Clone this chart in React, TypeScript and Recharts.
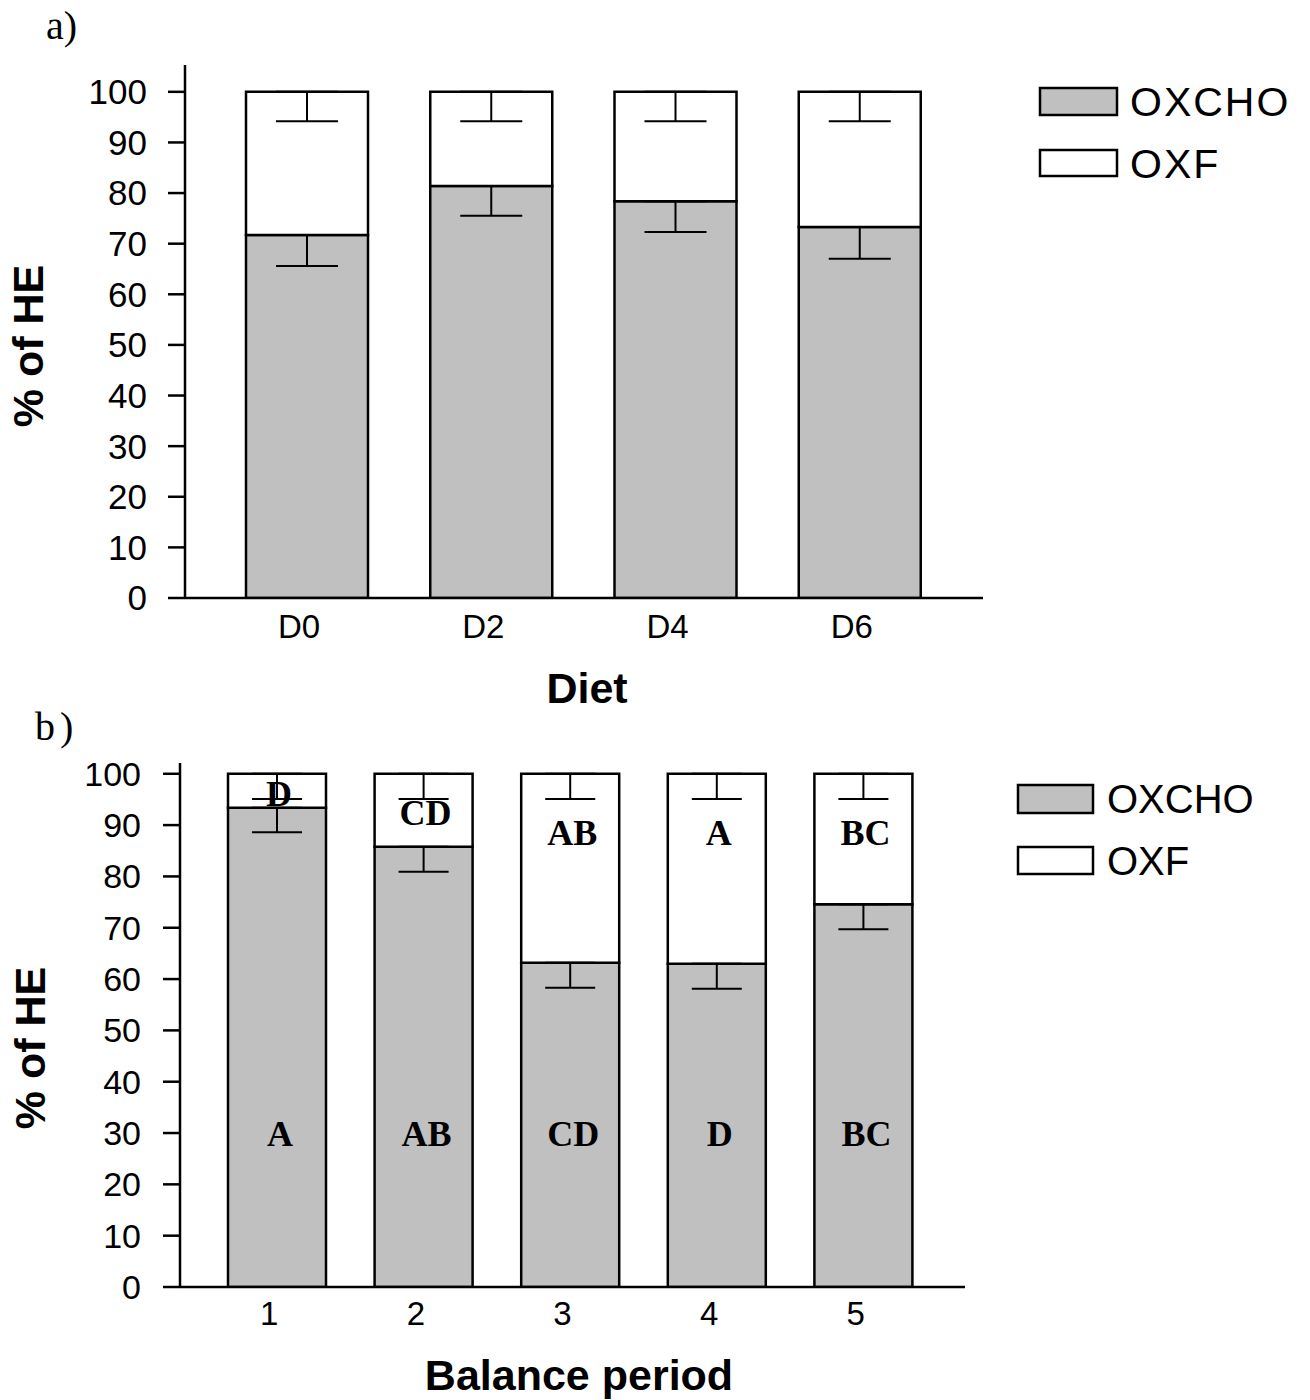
import React from 'react';
import { BarChart, Bar, XAxis, YAxis, ErrorBar, Legend, LabelList, Label } from 'recharts';

const SANS = '"Liberation Sans", Arial, sans-serif';
const SERIF = '"Liberation Serif", "Times New Roman", serif';

// ---- Panel a) Diet ----
const dietCategories = ['D0', 'D2', 'D4', 'D6'];
const dietOxcho = [71.7, 81.4, 78.4, 73.3];
const dietOxf = [28.3, 18.6, 21.6, 26.7];
const dietOxchoErr = [6.1, 5.9, 6.1, 6.3];
const dietOxfErr = [5.8, 5.8, 5.8, 5.8];

// ---- Panel b) Balance period ----
const periodCategories = ['1', '2', '3', '4', '5'];
const periodOxcho = [93.4, 85.8, 63.2, 63.0, 74.6];
const periodOxf = [6.6, 14.2, 36.8, 37.0, 25.4];
const periodOxchoErr = [4.8, 4.9, 4.9, 4.9, 4.9];
const periodOxfErr = [4.9, 4.9, 4.9, 4.9, 4.9];
const periodOxchoLetters = ['A', 'AB', 'CD', 'D', 'BC'];
const periodOxfLetters = ['D', 'CD', 'AB', 'A', 'BC'];

const yTicks = [0, 10, 20, 30, 40, 50, 60, 70, 80, 90, 100];

const dietRows = dietCategories.map((name, i) => ({
  name,
  oxcho: dietOxcho[i],
  oxf: dietOxf[i],
  oxchoErr: [dietOxchoErr[i], 0],
  oxfErr: [dietOxfErr[i], 0],
}));

const periodRows = periodCategories.map((name, i) => ({
  name,
  oxcho: periodOxcho[i],
  oxf: periodOxf[i],
  oxchoErr: [periodOxchoErr[i], 0],
  oxfErr: [periodOxfErr[i], 0],
  oxchoLetter: periodOxchoLetters[i],
  oxfLetter: periodOxfLetters[i],
}));

const GREY = '#c0c0c0';

const XTick = (props: any) => {
  const { x, y, payload, fontSize } = props;
  return (
    <text x={x - 8} y={y} dy="0.71em" textAnchor="middle" fill="#000" fontSize={fontSize} fontFamily={SANS}>
      {payload.value}
    </text>
  );
};

const LegendBox = (props: any) => {
  const { boxX, rows, boxW, textX, fontSize, spacing } = props;
  return (
    <svg width={300} height={140} style={{ overflow: 'visible' }}>
      {rows.map((r: any, i: number) => (
        <g key={i}>
          <rect x={boxX} y={r.y} width={boxW} height={r.h} fill={r.fill} stroke="#000" strokeWidth={2.5} />
          <text
            x={textX}
            y={r.y + r.h / 2 + fontSize * 0.358}
            fontSize={fontSize}
            fontFamily={SANS}
            fill="#000"
            letterSpacing={spacing}
          >
            {r.label}
          </text>
        </g>
      ))}
    </svg>
  );
};

const OxchoLetter = (props: any) => {
  const { x, y, width, height, value } = props;
  const bottom = y + height;
  const cy = bottom - 153;
  return (
    <text x={x + width / 2 + 3} y={cy + 12} textAnchor="middle" fontSize={36} fontWeight="bold" fontFamily={SERIF} fill="#000">
      {value}
    </text>
  );
};

const OxfLetter = (props: any) => {
  const { x, y, width, height, value } = props;
  const cy = Math.min(y + 59, y + height / 2 + 3);
  return (
    <text x={x + width / 2 + 2} y={cy + 12} textAnchor="middle" fontSize={36} fontWeight="bold" fontFamily={SERIF} fill="#000">
      {value}
    </text>
  );
};

const axisStyle = { stroke: '#000', strokeWidth: 2.5 };

export default function App() {
  return (
    <div style={{ position: 'absolute', left: 0, top: 0, width: 1310, height: 1400, background: '#fff' }}>
      {/* Panel a */}
      <div style={{ position: 'absolute', left: 0, top: 0 }}>
        <BarChart
          width={1310}
          height={720}
          data={dietRows}
          margin={{ top: 65, right: 327, bottom: 62, left: 0 }}
          barSize={122}
        >
          <XAxis
            dataKey="name"
            height={60}
            tickLine={false}
            tickSize={0}
            tickMargin={17}
            padding={{ left: 30, right: 31 }}
            axisLine={axisStyle}
            tick={<XTick fontSize={33} />}
            interval={0}
          >
            <Label
              content={() => (
                <text x={587} y={703} textAnchor="middle" fontSize={43} fontWeight="bold" fontFamily={SANS} fill="#000">
                  Diet
                </text>
              )}
            />
          </XAxis>
          <YAxis
            type="number"
            domain={[0, 105.3]}
            ticks={yTicks}
            interval={0}
            allowDataOverflow
            width={185}
            tickSize={17}
            tickMargin={21}
            axisLine={axisStyle}
            tickLine={axisStyle}
            tick={{ fill: '#000', fontSize: 35, fontFamily: SANS }}
          >
            <Label
              content={() => (
                <text
                  x={28}
                  y={346}
                  transform="rotate(-90, 28, 346)"
                  textAnchor="middle"
                  dominantBaseline="central"
                  fontSize={43}
                  fontWeight="bold"
                  fontFamily={SANS}
                  fill="#000"
                >
                  % of HE
                </text>
              )}
            />
          </YAxis>
          <Legend
            layout="horizontal"
            verticalAlign="middle"
            align="center"
            wrapperStyle={{ position: 'absolute', left: 1020, top: 70, width: 290, height: 130 }}
            content={() => (
              <LegendBox
                boxX={20}
                boxW={77}
                textX={110}
                fontSize={41}
                spacing={2}
                rows={[
                  { y: 18, h: 27, fill: GREY, label: 'OXCHO' },
                  { y: 80, h: 26, fill: '#fff', label: 'OXF' },
                ]}
              />
            )}
          />
          <Bar dataKey="oxcho" name="OXCHO" stackId="s" fill={GREY} stroke="#000" strokeWidth={2.5} isAnimationActive={false}>
            <ErrorBar dataKey="oxchoErr" direction="y" width={31} stroke="#000" strokeWidth={2} isAnimationActive={false} />
          </Bar>
          <Bar dataKey="oxf" name="OXF" stackId="s" fill="#fff" stroke="#000" strokeWidth={2.5} isAnimationActive={false}>
            <ErrorBar dataKey="oxfErr" direction="y" width={31} stroke="#000" strokeWidth={2} isAnimationActive={false} />
          </Bar>
        </BarChart>
      </div>

      {/* Panel b */}
      <div style={{ position: 'absolute', left: 0, top: 700 }}>
        <BarChart
          width={1310}
          height={700}
          data={periodRows}
          margin={{ top: 63, right: 345, bottom: 53, left: 0 }}
          barSize={98}
        >
          <XAxis
            dataKey="name"
            height={60}
            tickLine={false}
            tickSize={0}
            tickMargin={15}
            padding={{ left: 24, right: 28 }}
            axisLine={axisStyle}
            tick={<XTick fontSize={33} />}
            interval={0}
          >
            <Label
              content={() => (
                <text x={579} y={690} textAnchor="middle" fontSize={43} fontWeight="bold" fontFamily={SANS} fill="#000">
                  Balance period
                </text>
              )}
            />
          </XAxis>
          <YAxis
            type="number"
            domain={[0, 102.1]}
            ticks={yTicks}
            interval={0}
            allowDataOverflow
            width={180}
            tickSize={17}
            tickMargin={22}
            axisLine={axisStyle}
            tickLine={axisStyle}
            tick={{ fill: '#000', fontSize: 34, fontFamily: SANS }}
          >
            <Label
              content={() => (
                <text
                  x={30}
                  y={348}
                  transform="rotate(-90, 30, 348)"
                  textAnchor="middle"
                  dominantBaseline="central"
                  fontSize={43}
                  fontWeight="bold"
                  fontFamily={SANS}
                  fill="#000"
                >
                  % of HE
                </text>
              )}
            />
          </YAxis>
          <Legend
            layout="horizontal"
            verticalAlign="middle"
            align="center"
            wrapperStyle={{ position: 'absolute', left: 1000, top: 70, width: 300, height: 130 }}
            content={() => (
              <LegendBox
                boxX={18}
                boxW={75}
                textX={107}
                fontSize={40}
                spacing={0}
                rows={[
                  { y: 15, h: 28, fill: GREY, label: 'OXCHO' },
                  { y: 77, h: 27, fill: '#fff', label: 'OXF' },
                ]}
              />
            )}
          />
          <Bar dataKey="oxcho" name="OXCHO" stackId="s" fill={GREY} stroke="#000" strokeWidth={2.5} isAnimationActive={false}>
            <ErrorBar dataKey="oxchoErr" direction="y" width={25} stroke="#000" strokeWidth={2} isAnimationActive={false} />
            <LabelList dataKey="oxchoLetter" content={<OxchoLetter />} />
          </Bar>
          <Bar dataKey="oxf" name="OXF" stackId="s" fill="#fff" stroke="#000" strokeWidth={2.5} isAnimationActive={false}>
            <ErrorBar dataKey="oxfErr" direction="y" width={25} stroke="#000" strokeWidth={2} isAnimationActive={false} />
            <LabelList dataKey="oxfLetter" content={<OxfLetter />} />
          </Bar>
        </BarChart>
      </div>

      {/* Panel labels */}
      <svg width={120} height={60} style={{ position: 'absolute', left: 0, top: 0 }}>
        <text x={46} y={39} fontSize={40} fontFamily={SERIF} fill="#000">a)</text>
      </svg>
      <svg width={120} height={60} style={{ position: 'absolute', left: 0, top: 700 }}>
        <text x={35} y={40} fontSize={40} fontFamily={SERIF} fill="#000" letterSpacing={5}>b)</text>
      </svg>
    </div>
  );
}
